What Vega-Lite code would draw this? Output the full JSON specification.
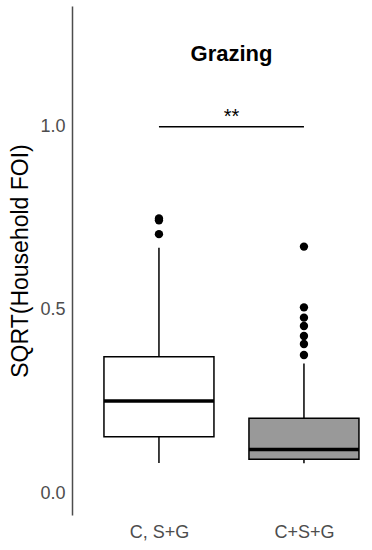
{
  "$schema": "https://vega.github.io/schema/vega-lite/v6.json",
  "autosize": "none",
  "width": 300,
  "height": 509,
  "padding": {"left": 72, "top": 6, "right": 0, "bottom": 35},
  "background": "white",
  "title": {"text": "Grazing", "fontSize": 22, "fontWeight": "bold", "font": "Liberation Sans", "color": "black", "anchor": "middle", "frame": "group", "dx": 9.5, "offset": -60},
  "config": {
    "view": {"stroke": null},
    "font": "Liberation Sans",
    "axis": {"grid": false}
  },
  "datasets": {
    "boxes": [
      {"group": "C, S+G", "lower": 0.082, "q1": 0.154, "median": 0.251, "q3": 0.372, "upper": 0.670},
      {"group": "C+S+G", "lower": 0.081, "q1": 0.092, "median": 0.119, "q3": 0.204, "upper": 0.354}
    ],
    "outliers": [
      {"group": "C, S+G", "value": 0.707},
      {"group": "C, S+G", "value": 0.745},
      {"group": "C, S+G", "value": 0.750},
      {"group": "C+S+G", "value": 0.377},
      {"group": "C+S+G", "value": 0.407},
      {"group": "C+S+G", "value": 0.429},
      {"group": "C+S+G", "value": 0.456},
      {"group": "C+S+G", "value": 0.479},
      {"group": "C+S+G", "value": 0.507},
      {"group": "C+S+G", "value": 0.673}
    ],
    "sig": [
      {"group1": "C, S+G", "group2": "C+S+G", "y": 1.0, "label_y": 1.01, "label": "**"}
    ]
  },
  "encoding": {
    "x": {
      "field": "group", "type": "nominal",
      "scale": {"type": "point", "domain": ["C, S+G", "C+S+G"], "padding": 0.5345, "align": 0.561},
      "axis": {"title": null, "domain": false, "ticks": false, "labelAngle": 0, "labelFontSize": 18, "labelColor": "#4d4d4d", "labelPadding": 8}
    }
  },
  "layer": [
    {
      "data": {"name": "boxes"},
      "mark": {"type": "rule", "color": "black", "strokeWidth": 1.5},
      "encoding": {
        "y": {
          "field": "lower", "type": "quantitative",
          "scale": {"domain": [-0.06, 1.33], "nice": false, "zero": false},
          "axis": {"values": [0, 0.5, 1.0], "format": ".1f", "ticks": false, "domainColor": "#4d4d4d", "domainWidth": 1.5, "labelFontSize": 18, "labelColor": "#4d4d4d", "labelPadding": 7, "title": "SQRT(Household FOI)", "titleFontSize": 23, "titleFontWeight": "normal", "titleColor": "black", "titlePadding": 7}
        },
        "y2": {"field": "upper"}
      }
    },
    {
      "data": {"name": "boxes"},
      "mark": {"type": "bar", "size": 110, "stroke": "black", "strokeWidth": 1.5},
      "encoding": {
        "y": {"field": "q1", "type": "quantitative"},
        "y2": {"field": "q3"},
        "fill": {"field": "group", "type": "nominal", "scale": {"domain": ["C, S+G", "C+S+G"], "range": ["white", "#999999"]}, "legend": null}
      }
    },
    {
      "data": {"name": "boxes"},
      "mark": {"type": "tick", "size": 110, "thickness": 3.5, "color": "black", "opacity": 1},
      "encoding": {
        "y": {"field": "median", "type": "quantitative"}
      }
    },
    {
      "data": {"name": "outliers"},
      "mark": {"type": "circle", "size": 70, "color": "black", "opacity": 1},
      "encoding": {
        "y": {"field": "value", "type": "quantitative"}
      }
    },
    {
      "data": {"name": "sig"},
      "mark": {"type": "rule", "color": "black", "strokeWidth": 1.5},
      "encoding": {
        "x": {"field": "group1", "type": "nominal"},
        "x2": {"field": "group2"},
        "y": {"field": "y", "type": "quantitative"}
      }
    },
    {
      "data": {"name": "sig"},
      "mark": {"type": "text", "fontSize": 20, "color": "black", "dx": 72.5, "baseline": "alphabetic", "align": "center"},
      "encoding": {
        "x": {"field": "group1", "type": "nominal"},
        "y": {"field": "label_y", "type": "quantitative"},
        "text": {"field": "label"}
      }
    }
  ]
}
